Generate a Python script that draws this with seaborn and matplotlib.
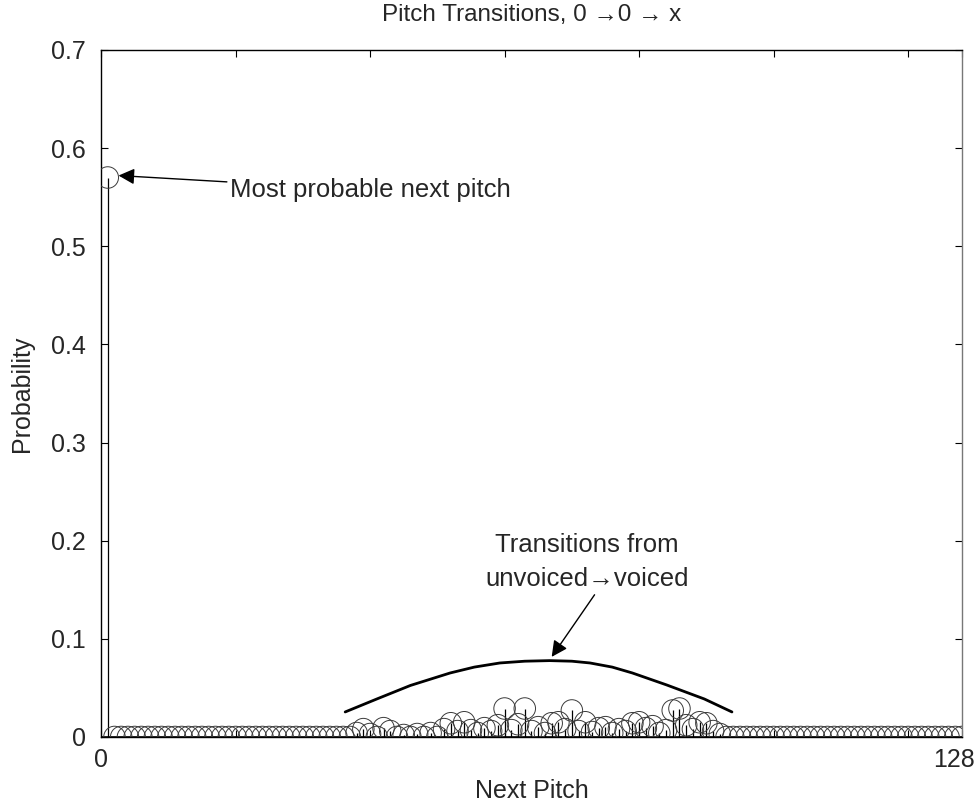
import matplotlib
matplotlib.use("Agg")
import matplotlib.pyplot as plt
import matplotlib.transforms as mtransforms
import seaborn as sns
import pandas as pd

# ---- data ----
pitches = list(range(1, 129))
probs = [
    0.570, 0, 0, 0, 0, 0, 0, 0, 0, 0, 0, 0, 0, 0, 0, 0,
    0, 0, 0, 0, 0, 0, 0, 0, 0, 0, 0, 0, 0, 0, 0, 0,
    0, 0, 0, 0, 0, 0.004, 0.008, 0.003, 0, 0.009, 0.006, 0, 0.002, 0, 0.003, 0,
    0.004, 0, 0.008, 0.014, 0.006, 0.015, 0.007, 0.004, 0.009, 0.006, 0.012, 0.029, 0.007, 0.013, 0.029, 0.006,
    0.010, 0.004, 0.014, 0.015, 0.008, 0.027, 0.006, 0.015, 0.005, 0.009, 0.010, 0.004, 0.008, 0.006, 0.014, 0.015,
    0.009, 0.011, 0.004, 0.007, 0.027, 0.029, 0.012, 0.008, 0.015, 0.014, 0.006, 0.003, 0, 0, 0, 0,
    0, 0, 0, 0, 0, 0, 0, 0, 0, 0, 0, 0, 0, 0, 0, 0,
    0, 0, 0, 0, 0, 0, 0, 0, 0, 0, 0, 0, 0, 0, 0, 0,
]

# hand-drawn envelope curve
curve_x = [36.3, 41.0, 46.0, 51.9, 55.5, 59.3, 63.0, 66.7, 70.0, 72.7, 76.0, 79.0, 84.1, 89.7, 93.8]
curve_y = [0.0255, 0.0387, 0.0525, 0.0652, 0.0712, 0.0754, 0.0772, 0.0778, 0.0772, 0.0754, 0.0712, 0.0652, 0.053, 0.0387, 0.0255]

xtick_vals = [0, 20, 40, 60, 80, 100, 120, 128]
xtick_labels = ["0", "", "", "", "", "", "", "128"]
ytick_vals = [0, 0.1, 0.2, 0.3, 0.4, 0.5, 0.6, 0.7]
ytick_labels = ["0", "0.1", "0.2", "0.3", "0.4", "0.5", "0.6", "0.7"]

title = "Pitch Transitions, 0 \u21920 \u2192 x"
xlabel = "Next Pitch"
ylabel = "Probability"
note1 = "Most probable next pitch"
note2 = "Transitions from\nunvoiced\u2192voiced"

# ---- plotting ----
sns.set_theme(style="white")
plt.rcParams["font.family"] = ["Liberation Sans", "DejaVu Sans"]

df = pd.DataFrame({"pitch": pitches, "prob": probs})

fig = plt.figure(figsize=(9.79, 8.05), dpi=100)
ax = fig.add_axes([0.1032, 0.0845, 0.8794, 0.8535])

ax.vlines(df["pitch"], 0, df["prob"], color="black", linewidth=0.9, zorder=2)
ax.plot([0, 128], [0, 0], color="black", linewidth=1.2, zorder=3)
sns.scatterplot(data=df, x="pitch", y="prob", ax=ax, marker="o", s=240,
                facecolor="none", edgecolor="#3a3a3a", linewidth=0.7, zorder=4, legend=False)
sns.lineplot(x=curve_x, y=curve_y, ax=ax, color="black", linewidth=2.0, sort=False, zorder=5)

ax.set_xlim(0, 128)
ax.set_ylim(0, 0.7)
ax.set_xticks(xtick_vals)
ax.set_xticklabels(xtick_labels)
ax.set_yticks(ytick_vals)
ax.set_yticklabels(ytick_labels)
ax.tick_params(direction="in", length=5, width=0.8, labelsize=18, color="black",
               top=True, right=True, bottom=True, left=True)
ax.tick_params(axis="y", pad=11)
ax.tick_params(axis="x", pad=8)
for s in ax.spines.values():
    s.set_color("black")
    s.set_linewidth(1.0)
ax.spines["right"].set_color("#777777")

# shift the "128" label slightly left so it stays inside the figure
last = ax.get_xticklabels()[-1]
last.set_transform(last.get_transform() +
                   mtransforms.ScaledTranslation(-8 / 100, 0, fig.dpi_scale_trans))

ax.set_xlabel(xlabel, fontsize=18, labelpad=5)
ax.set_ylabel(ylabel, fontsize=18, labelpad=12)
ax.set_title(title, fontsize=17.5, pad=21)

arrow = dict(arrowstyle="-|>", color="black", lw=1.0, mutation_scale=24, shrinkA=0, shrinkB=0)
ax.annotate(note1, xy=(2.6, 0.572), xytext=(19.2, 0.557), fontsize=18.5,
            va="center", ha="left", arrowprops=arrow)
ax.annotate(note2, xy=(67.0, 0.0816), xytext=(72.2, 0.178), fontsize=18.5,
            va="center", ha="center", linespacing=1.55,
            arrowprops=dict(arrow, relpos=(0.55, 0.0)))

fig.savefig("out.png", dpi=100)
